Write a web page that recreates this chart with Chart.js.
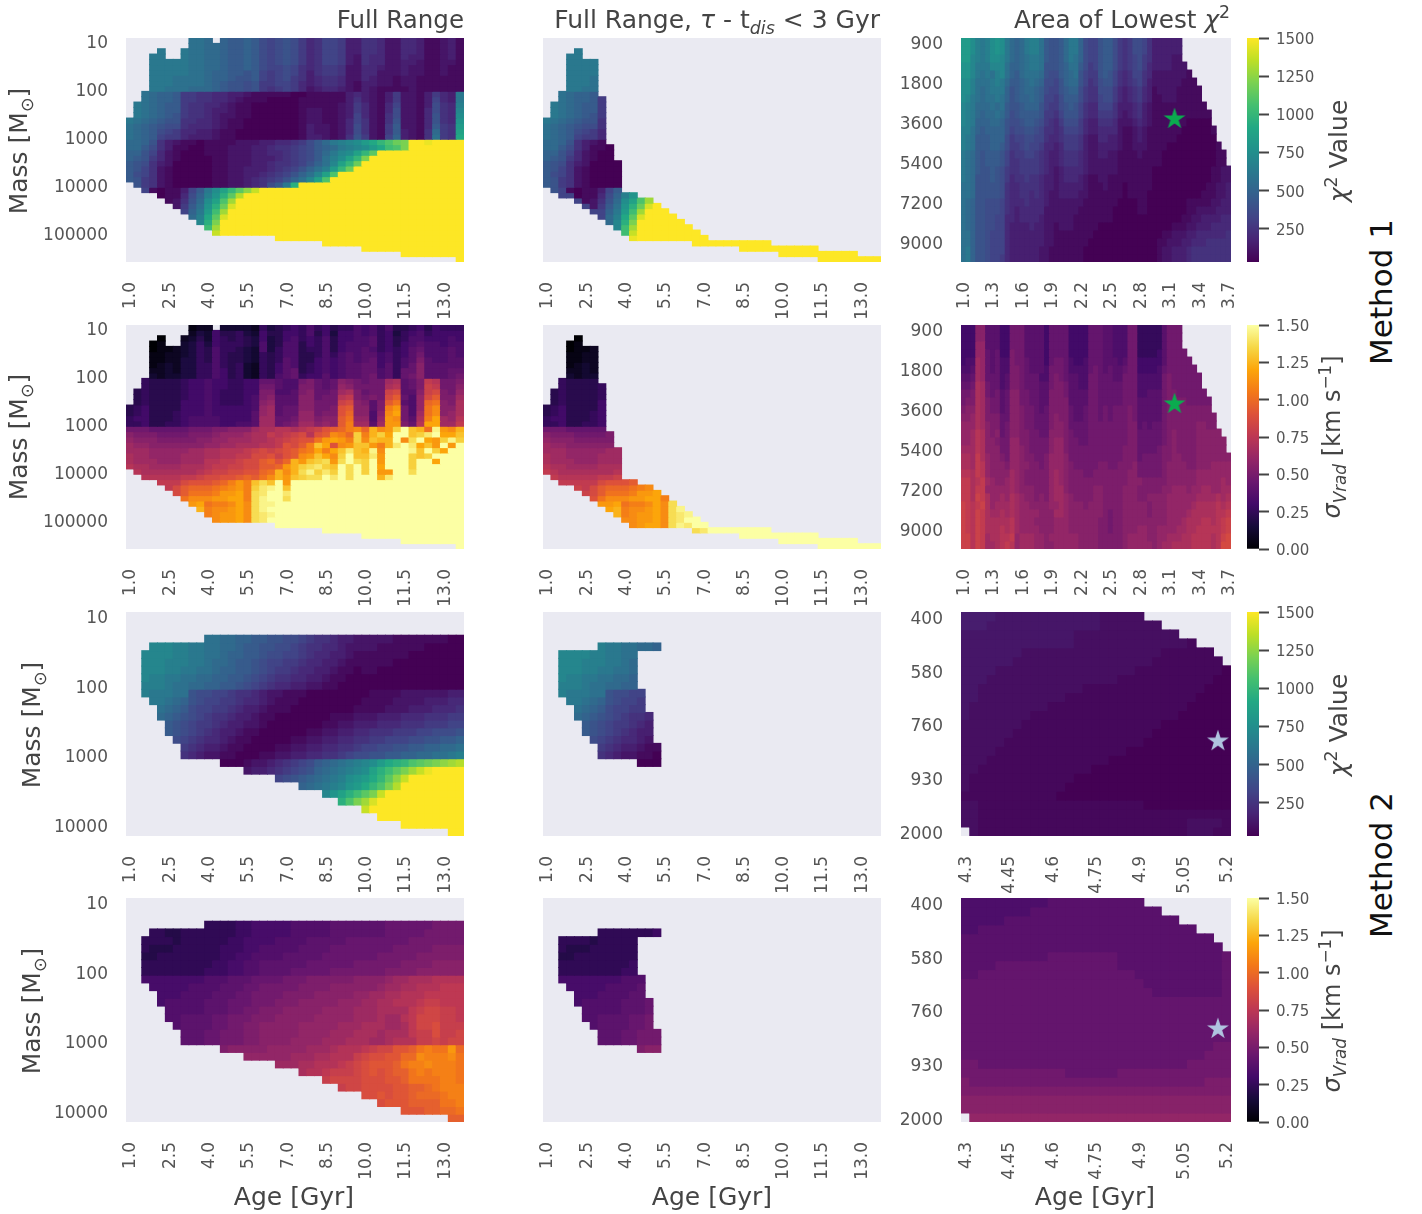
<!DOCTYPE html>
<html>
<head>
<meta charset="utf-8">
<script src="https://cdn.jsdelivr.net/npm/chart.js@4/dist/chart.umd.min.js"></script>
<style>
  body { margin: 0; background: #fff; width: 1422px; height: 1214px; overflow: hidden; position: relative; font-family: "DejaVu Sans", sans-serif; }
  canvas { position: absolute; }
  .t { position: absolute; white-space: nowrap; color: #444; font-size: 24px; }
  .v { transform: translate(-50%, -50%) rotate(-90deg); }
  .h { transform: translate(-50%, -50%); }
  .t sub, .t sup { font-size: 70%; line-height: 0; }
</style>
</head>
<body>
<script>
// cell values are one base-36 level per cell (0 = bottom of the colour scale, z = top)
// short rows carry on with their last level, spaces are only there for counting

const ageTicksFull = ["1.0", "2.5", "4.0", "5.5", "7.0", "8.5", "10.0", "11.5", "13.0"];
const ageTicksLow1 = ["1.0", "1.3", "1.6", "1.9", "2.2", "2.5", "2.8", "3.1", "3.4", "3.7"];
const ageTicksLow2 = ["4.3", "4.45", "4.6", "4.75", "4.9", "5.05", "5.2"];
const massTicks1 = ["10", "100", "1000", "10000", "100000"];
const massTicks2 = ["10", "100", "1000", "10000"];
const massTicksLow1 = ["900", "1800", "3600", "5400", "7200", "9000"];
const massTicksLow2 = ["400", "580", "760", "930", "2000"];
const chiBarTicks = [250, 500, 750, 1000, 1250, 1500];
const sigmaBarTicks = [0, 0.25, 0.5, 0.75, 1, 1.25, 1.5];

// best-fit stars: [age column, mass row]
const starChiLow1 = ["43", 10.0];
const starSigmaLow1 = ["43", 9.75];
const starChiLow2 = ["29", 14.3];
const starSigmaLow2 = ["29", 14.5];

// filled part of each column: first row, row after the last
const fullTop1 = [15,12,10,3,2,4,4,2,0,0,0,1,0,0,0,0,0,0,0,0,0,0,0,0,0,0,0,0,0,0,0,0,0,0,0,0,0,0,0,0,0,0,0];
const fullBottom1 = [27,28,29,29,30,31,32,33,34,35,36,37,37,37,37,37,37,37,37,38,38,38,38,38,38,39,39,39,39,39,40,40,40,40,40,41,41,41,41,41,41,41,42];
const midTop1 = [15,12,10,3,2,4,4,11,20,23,29,29,30,30,31,32,33,34,35,36,37,38,38,38,38,38,38,38,38,39,39,39,39,39,39,40,40,40,40,40,41,41,41];
const midBottom1 = [28,29,30,30,31,32,33,34,35,36,37,38,38,38,38,38,38,38,38,39,39,39,39,39,39,40,40,40,40,40,41,41,41,41,41,42,42,42,42,42,42,42,42];
const lowTop1 = [0,0,0,0,0,0,0,0,0,0,0,0,0,0,0,0,0,0,0,0,0,0,0,0,0,0,0,0,0,0,0,0,0,0,0,0,0,0,0,0,0,0,0,0,0,3,4,5,6,8,9,11,13,14,16];
const fullTop2 = [29,29,5,4,4,4,4,4,4,4,3,3,3,3,3,3,3,3,3,3,3,3,3,3,3,3,3,3,3,3,3,3,3,3,3,3,3,3,3,3,3,3,3];
const fullBottom2 = [0,0,11,12,14,16,17,19,19,19,19,19,20,20,20,21,21,21,21,22,22,22,23,23,23,24,24,25,25,25,26,26,27,27,27,28,28,28,28,28,28,29,29];
const midTop2 = [29,29,5,5,5,5,5,4,4,4,4,4,4,4,4,29,29,29,29,29,29,29,29,29,29,29,29,29,29,29,29,29,29,29,29,29,29,29,29,29,29,29,29];
const midBottom2 = [0,0,11,12,14,16,17,19,19,19,19,19,20,20,20,0,0,0,0,0,0,0,0,0,0,0,0,0,0,0,0,0,0,0,0,0,0,0,0,0,0,0,0];
const midGapCols2 = [12, 13, 14];
const midGapEnds2 = [10, 13, 17];
const lowTop2 = [0,0,0,0,0,0,0,0,0,0,0,0,0,0,0,0,0,0,0,0,0,1,1,2,2,3,3,4,4,5,6];
const lowBottom2 = [24,25,25,25,25,25,25,25,25,25,25,25,25,25,25,25,25,25,25,25,25,25,25,25,25,25,25,25,25,25,25];

const chiFull1 = [
  "eeeeeeeedd ccbaaba878 9864577633 5542244311 231",
  "eeeeeeeedd ccbaaba878 9864577633 5542244311 231",
  "eeeeeeeedd ccbaaba878 9864577633 5542244311 231",
  "eeeeeeeedd ccbaaba878 9864577632 5442243311 231",
  "eeeeeeeedd ccbaaba878 9864577632 5442233211 221",
  "eeeeeeeedd ccbaaba877 8754566522 4432232211 211",
  "eeeeeeeedd cbbaa9a767 8753566522 4422232211 211",
  "eeeeeedddd cbba99a767 8653455422 4322122111 111",
  "eeeeeedddd cba9989667 7643455421 3322122111 111",
  "eeeeedddcc cba9989656 7642344321 3211112111 111",
  "eedcbba665 5443321111 1001111134 3213622136 43e",
  "eedcbba665 5443211100 0011111135 3213622137 43e",
  "eedcbaa655 4432110000 0011111236 4214722138 54f",
  "eedcbaa655 4332110000 0012211236 4214822148 54g",
  "eedcba9655 4322110000 0012211237 4215822149 54h",
  "edcba99554 4321100000 0012211247 5215922149 54i",
  "dcba988544 4321100000 0013221248 5216a2214a 65j",
  "dcba876443 3211000000 0013221248 5216a3215c 65k",
  "dcba766433 3211000000 0013321259 6217b3215d 65l",
  "ccb9532110 1111222334 4568acefgh jlnprszzyz zzz",
  "cca8531100 1112223345 5678abcefg hjlopszzzz zzz",
  "bb97421000 1112223344 5678aceghk nqzzzzzzzz zzz",
  "ba96421000 0112223334 5678adfhkn szzzzzzzzz zzz",
  "a985320000 0112223345 5679bdgknr zzzzzzzzzz zzz",
  "a975210000 0112233345 679bdfjnrz zzzzzzzzzz zzz",
  "a875210000 0112233456 79bdgkpzzz zzzzzzzzzz zzz",
  "a965210000 0112234567 9bdgkpzzzz zzzzzzzzzz zzz",
  "a965210000 011223458a emzzzzzzzz zzzzzzzzzz zzz",
  "997101137a ehknqtwz",
  "997701148b fimqvz",
  "997771259c hkpuz",
  "99777726ad imrxz",
  "99777777be jouz",
  "99777777cf lqxz",
  "99777777cg msz",
  "99777777cg ouz",
  "99777777cg owz",
  "99777777cg pyz",
  "z"
];

const sigmaFull1 = [
  "1111111112 2733332645 6768675668 7868556757 666",
  "1111111124 3755643755 7768574778 7867467867 777",
  "1111022235 3765654745 7867685778 8967568877 787",
  "1110122346 4766654845 8857685788 8967578988 788",
  "1110112346 5866543846 8856685788 9867679a88 898",
  "1111122346 5865543656 8855686898 9978679b88 898",
  "1111122446 5865543656 9855787898 9a78689c98 899",
  "1111232446 6865632657 9856787899 aa7968ad99 999",
  "2212232446 6875632657 9a56787899 aa896aad99 9aa",
  "2213233446 6875632658 9a67797899 ab896abd99 9ab",
  "6665555677 8776677aa9 88bca9adcb abbfg9acih bbc",
  "6665555677 8776677bb9 88cca9aedb bbbgh9acji bbd",
  "5565555677 8766677cc8 89cdaabfgc abbjk99djk cbe",
  "5565555677 8766678cd9 99ddabbhic bcbkma8ekm ccf",
  "6565555777 8766678de9 99ddbbbjkd c9cmo98eno dcg",
  "5675555777 8777778ef9 aaddbbclmd d9cprb8eoq ddg",
  "5675556777 8777779ef9 aaeebcclnd d8dqsb8foq deg",
  "6775556788 8877779ffa abeecddmoe e8erqb9gps feh",
  "6675566788 8877889ffa bcffdedmpf f9frrcahss ffi",
  "bbbaaaaabb bccdddfggh hghijlmnpq ntqrvzutoy rqt",
  "dcccbbbbcc cdeeefggih ijkhlmqpnv ptvszzuvxz ssu",
  "edddcccccd deefffgghi jkllorsrpv quttzqwzsr vyv",
  "feeddddddd eeffggghhi lkmpuslqru urptxzxsur zrz",
  "fffeeeeeff gghhhijkjk lmopspsuxu tyqzzzyuzv szz",
  "gffeeeefff gghhiikklj lmqrusqvzu uxrzzzvuvz zzz",
  "gfffeeefff hhiijkkmnl ntruvwrwzw vzrzzzvzzs zzz",
  "hggffffggg hiijjkkmmn rtvwxvuzwz vzszzzvzzz zzz",
  "ihgggggggh ijjkkllnot qtwyvxvzwz vzrrzzwzzz zzz",
  "jihhhhhiij kkllmnmoqt ruvwwzxzwz zztxzzzzzz zzz",
  "jjiiiiikll lmnprpuwuz rz",
  "jjjjjikmnn nopqrpvxyz uz",
  "jjjjjjkmoo oprrspwxzz xz",
  "jjjjjjloqq qrrsspwyzz wz",
  "jjjjjjlrrs oppqsqwyyz z",
  "jjjjjjjsst pqqrsqwyzz z",
  "jjjjjjjjst pqrrsqwxyz z",
  "jjjjjjjjjt qqrrsqwxzz z",
  "jjjjjjjjjj qqrssqwyxz z",
  "jjjjjjjjjj zzzzzzzzzw xz",
  "z"
];

const chiLow1 = [
  "jjhfefhihe cbceffda99 aceeb8779a a865688753 3333333222 22222",
  "jjhfefhihe cbceffda99 aceeb8779a a865688753 3333333222 22222",
  "jjgfefhhge cbcdeeda99 acedb8779a a865678653 3332222222 22222",
  "iigeeegggd bbcdeed999 abdda8679a a865678643 3332222222 22222",
  "iigededfgd bacdddc988 abcd97669a 9754577542 2222221111 11111",
  "hhfdddefec aabcdcb887 9bcc975689 9754567532 2222211111 11111",
  "hhfdcdeeeb 9abccba877 9abb865588 8643456431 2222111111 11111",
  "hgedcddedb 9abbcba776 8aaa865578 8643456431 1222111111 11111",
  "gfecccdcda 99abbb9766 89a9754477 7533345321 1111111111 11111",
  "gfecbccdca 89aaaa9665 7999754466 6532345321 1111111111 11111",
  "gfebbbccb9 889aa98654 6888643355 5422234321 1111110000 01111",
  "ffdbabbbb9 7889987554 5777643344 4421123211 1111100000 01111",
  "fedaaabbb8 6778877544 5666532244 3321123211 1111000000 00111",
  "fedaaabba8 6678776443 4666532233 3321122211 1100000000 00111",
  "edca9aaa97 5667765433 4555432233 2211112111 1000000000 00112",
  "edca9aaa97 5566665433 4555432222 2211111111 1000000000 00112",
  "edca99a986 5566665432 3444432222 2211111110 0000000000 01122",
  "edc999a986 4556554332 3444321122 1111111110 0000000000 01122",
  "ddc9999985 4455554332 3333321112 1110111110 0000000000 11223",
  "ddc9999985 4455454322 3333221111 1110111100 0000000001 11223",
  "dcb9988875 4445444322 2222211111 1100001100 0000001111 12233",
  "dcb9988875 4344444222 2222111111 1000001100 0000001122 22333",
  "dcb9988774 4344443222 2221111111 1000000000 0000011223 33344",
  "dcb9988774 3333433221 2221111100 0000000000 0001112233 34444",
  "ddb9987774 3333333221 1111111000 0000000000 0112223344 44445",
  "ddb9987774 3333333221 1111110000 0000000000 1122233444 55555",
  "deb9987774 3333332211 1111100000 0000000000 1223334555 55555",
  "deb9987764 3333332211 1111100000 0000000000 1223334555 55555"
];

const sigmaLow1 = [
  "777dd99977 bbb99997aa aa7777aaa9 9888bb6666 69bbbbbbbb bbbbb",
  "777dd99977 bbb99997aa aa7777aaa9 9888bb6666 69bbbbbbbb bbbbb",
  "777ee99977 bbb99997aa aa7777aaa9 9888bb6666 69bbbbbbbb bbbbb",
  "777eea9a77 cbb99997aa aa7777aaa9 9888bb6666 79bbbbbbbb bbbbb",
  "788fea9a88 cbba9997ab ba8778aaa9 9989bb7777 79bbbbbbbb bbbbb",
  "889fea9a88 ccba9998bb ba8888aba9 a99abb7777 8abbbbbbbb bbbbb",
  "99afeaaa89 ccbaaa88bc ba9988bbaa a99bbb8888 8bcbbbbbbb bbbbb",
  "aabgfbaa89 ccbaaa99bc cb9988bbaa aaabbb8888 8bcbbbbbbb bbbbb",
  "bbcgfbab9a ddbbaa99cc cb9999bbaa aaabbb8899 9bccbbbbbb bbbbb",
  "bccgfcbb9a ddbbaa99cc cc9999bbaa aaabbb9999 9bccccbbbb bbbbb",
  "cddgfcbb9a ddcbba9acc cca99abbab abbbcb9999 9bcccccccc ccccc",
  "ddegfcccaa ddcbbaaacd cca99abbab abbbcb9999 9bcccccccc ccccc",
  "eeegfdccab ddcbbaaacd dcaaaabbbb bbbbcc9a9a abccccccdd ccccc",
  "eefhgdcdab ddccbbaadd dcbaaabbbb bbbbccaaaa abcdccccdd ddddd",
  "eefhgddcbb eeccbbbbde ecbbaabbbb bbbbccaaaa abcdccccdd ddddd",
  "fffhgdddbb eedcbbbbde ecbbbbbbbb bbbcccaaaa bccdccccdd ddddd",
  "ggfigeddcb eedccbbcee edbbbbbbbb bbbcccabbb bccddcccdd ddddd",
  "ggfihedddc eeddccbcee edcbbbbbcc bbcccdbbbb bcddddccdd deeee",
  "hhgihedddd fedcccccef edcccbbccc ccccddbbbb bcddddddee eeeee",
  "iighifedde fedcccccef edcccccccc ccccdddccc ccddddddee eeefe",
  "iigiieeeee fedddcccef fdcccccddc cccdddcccc cddeeedeef feeff",
  "iigjigeefe gfeddcdcef fedccccddc cccdddccdd ddeeeeeeff ffgfg",
  "jihijgefff gfeeddddee fedddcdddc cccdddddcd ddeeeeefgg gghgh",
  "jihjigffgf gfeeeedddf fedddddddc bccdddddcd ddeeeefggg gghhi",
  "jihjiggggg hfeeedddde eeddddddcc bccddddddd ddeeefgggh hghij",
  "jihjiggghg hfeeeeddde eeddddddcc bccdddeedd eeeeffgghh hhhij",
  "jjhjifgghh iefffeedee eeeeddddcc cccdeeeedd eefffgghhh hghjk",
  "jjhjiffghi hefffeedde eeeeddddcc cccdeeeeed effgggghhh hghkk"
];

const chiFull2 = [
  "g", "g", "g",
  "ggggggffee ddccbbaa99 8876554332 2222111111 100",
  "ggggggffee ddccbaa998 8765544322 2211111100 000",
  "ggggggffee ddcbbaa988 7765443321 1111110000 000",
  "gggggfffee dccbaa9877 6654433211 1111000000 000",
  "gggggffeed dcbbaa9876 6544332110 1100000000 000",
  "gggffeeddc cbbaa98765 5443321100 0000000000 000",
  "ggfffeddcc bbaa987654 4332211000 0000000000 000",
  "fffeeedd98 8776554322 1110000000 0111122222 233",
  "fffeedcb98 7766544321 1100000000 1111222233 344",
  "fffedcba87 7665433211 1000000001 1112223334 445",
  "eeedcba987 6554332110 0000001112 2233344455 566",
  "eeecba9876 6543322100 0000011223 3344455566 677",
  "eedcba9876 5433211000 0001122334 4555666778 889",
  "eedca98765 4432110000 0112233445 5667778899 aab",
  "edcb987654 3321100001 1223344556 778899aabb ccd",
  "edca876543 2211000112 2334455678 899aabbccd def",
  "edca876433 1100012234 5678abcdef ghjlmnpqrs tuv",
  "edca876433 1100123345 6789bcdefg hkmoqsuwyz zzz",
  "eeeeeeeeee 1111234567 89abcdefhi jlnqtwzzzz zzz",
  "eeeeeeeeee 1111111678 9abcdefgij lnpsvzzzzz zzz",
  "eeeeeeeeee 1111111111 11bcegikmo qswz",
  "eeeeeeeeee 1111111111 11111ikmps uxz",
  "eeeeeeeeee 1111111111 1111111oqt wz",
  "eeeeeeeeee 1111111111 1111111111 yz",
  "z", "z"
];

const sigmaFull2 = [
  "6", "6", "6",
  "6666666666 6666778888 899999aaaa aaabbbbbbc ccc",
  "6666655666 6666778888 899999aaaa aaabbbbbcc ccc",
  "6666665666 6667788889 999aaaaabb bbbbbbcccc ccc",
  "6665556666 6677788999 99aaaabbbb bbbbcccccd ddd",
  "6655666666 6677889999 aaaaabbbbb bbcccccddd ddd",
  "6666666666 6778899aaa aaabbbbbbc cccccdddde eee",
  "6666666666 7778899aaa abbbbbcccc cccddddeee eee",
  "8888888888 999aaabbbb cccdddddde eeefgghhhi iii",
  "8888888899 99aaabbccc ccddddeeee eefgghhiii jjj",
  "8888888999 9aaabbcccc ddddeeeeef fgghhiiijj jjj",
  "8888899999 aaabbbcccd ddeeeeefff gghhiiijkk jjj",
  "8889999999 aaabbccddd eeeeeffffg gghhhhjkll kkj",
  "8889999aaa abbcccddde eeeefffffg gghggijlll kkj",
  "8999999aaa abbccddeee eefffffggg hhhgghjllm kkk",
  "899999aaaa bbcccddeee eeffffgggh hhghhhjkkm kkl",
  "999999aaaa bbcccddeee effffggghh hgghiiikkl kll",
  "9999999aaa bbdeeeeeff fffggghiii jkllnnoqrq qtp",
  "9999999aaa bbeeefffff fggghhiiik lmmnnppsrr rsq",
  "9999999aaa bbeeefffgg gghhiiijkl mnnnoqrrsr rrq",
  "9999999aaa bbeeefffgg hhhiijkkkl mnmnooqrqr rrq",
  "9999999aaa bbeeefffgg ggiijkllll mmmnnoqqqq rrq",
  "9999999aaa bbeeefffgg ggiijkkkll mmmmnnoopq rrr",
  "9999999aaa bbeeefffgg ggiijjkmml mmnmnnoppp qrr",
  "9999999999 9999999999 9999999999 mmmnnnoooo qqr",
  "9999999999 9999999999 9999999999 mmmmmnnnoo ppq",
  "9999999999 9999999999 9999999999 mmmmmmnooo ooo"
];

const chiLow2 = [
  "4444333333 3333332222 2222222222 2",
  "4443333333 3333332222 2222222222 2",
  "3333333333 3332222222 2222222222 1",
  "3333333333 3332222222 2222221111 1",
  "3333333222 2222222222 2221111111 1",
  "3333332222 2222222222 2211111111 1",
  "3333222222 2222222222 1111111111 0",
  "3332222222 2222222211 1111111110 0",
  "3322222222 2222111111 1111111100 0",
  "3322222222 2211111111 1111111000 0",
  "3222222222 1111111111 1111110000 0",
  "3222222211 1111111111 1111100000 0",
  "2222222111 1111111111 1110000000 0",
  "2222221111 1111111111 1100000000 0",
  "2222211111 1111111111 1000000000 0",
  "2222111111 1111111110 0000000000 0",
  "2221111111 1111111000 0000000000 0",
  "2211111111 1111100000 0000000000 0",
  "2111111111 1110000000 0000000000 0",
  "2111111111 1100000000 0000000000 0",
  "1111111111 1000000000 0000000000 0",
  "2211111111 1111111111 1000000000 0",
  "2211111111 1111111111 1111111111 1",
  "2211111111 1111111111 1111112222 1",
  "2211111111 1111111111 1111112221 1"
];

const sigmaLow2 = [
  "8888888888 9999999999 9999999999 9",
  "8888888899 9999999999 9999999999 9",
  "8888899999 9999999999 9999999999 9",
  "8899999999 9999999999 9999999999 9",
  "9",
  "9999999999 9999999999 9999999999 a",
  "9999999999 aaaaaaaa99 9999999999 a",
  "9999aaaaaa aaaaaaaa99 9999999999 a",
  "99aaaaaaaa aaaaaaaaaa 9999999999 a",
  "aaaaaaaaaa aaaaaaaaaa a999999999 a",
  "aaaaaaaaaa aaaaaaaaaa aa99999999 a",
  "a", "a", "a", "a", "a",
  "aaaaaaaaaa aaaaaaaaaa aaaaaaaaab b",
  "aaaaaaaaaa aaaaaaaaaa aaaaaaaabb b",
  "bbaaaaaaaa aaaaaaaaaa aaaaaabbbb b",
  "bbbbbbbbbb bbaaaaaabb bbbbbbbbbb b",
  "cbbbbbbbbb bbbbbbbbbb bbbbbbbbcc c",
  "c", "d", "d", "e"
];

const viridis = ["#440154", "#482475", "#414487", "#355f8d", "#2a788e", "#21918c", "#22a884", "#44bf70", "#7ad151", "#bddf26", "#fde725"];
const inferno = ["#000004", "#160b39", "#420a68", "#6a176e", "#932667", "#bc3754", "#dd513a", "#f37819", "#fca50a", "#f6d746", "#fcffa4"];

function hexRgb(h) {
  return [1, 3, 5].map((i) => parseInt(h.slice(i, i + 2), 16));
}

function levelColor(stops, f) {
  const p = Math.min(f, 0.9999) * (stops.length - 1);
  const i = Math.floor(p);
  const a = hexRgb(stops[i]), b = hexRgb(stops[i + 1]);
  const c = a.map((v, k) => Math.round(v + (b[k] - v) * (p - i)));
  return `rgb(${c[0]},${c[1]},${c[2]})`;
}

function starImage(color) {
  const c = document.createElement("canvas");
  c.width = 24; c.height = 24;
  const g = c.getContext("2d");
  g.fillStyle = color;
  g.beginPath();
  for (let i = 0; i < 10; i++) {
    const r = i % 2 ? 4.4 : 11.5;
    const a = -Math.PI / 2 + i * Math.PI / 5;
    g.lineTo(12 + r * Math.cos(a), 13 + r * Math.sin(a));
  }
  g.closePath();
  g.fill();
  return c;
}

const panelBg = {
  id: "panelBg",
  beforeDatasetsDraw(chart) {
    const a = chart.chartArea;
    chart.ctx.fillStyle = "#eaeaf2";
    chart.ctx.fillRect(a.left, a.top, a.right - a.left, a.bottom - a.top);
  },
};

// axis sizes are fixed, so the tick labels must not push the plot area in
function fixAxis(s, size) {
  if (s.isHorizontal()) s.height = size; else s.width = size;
  s.paddingLeft = s.paddingRight = s.paddingTop = s.paddingBottom = 0;
}

function addCanvas(x, y, w, h) {
  const cv = document.createElement("canvas");
  cv.width = w; cv.height = h;
  cv.style.left = x + "px"; cv.style.top = y + "px";
  cv.style.width = w + "px"; cv.style.height = h + "px";
  document.body.appendChild(cv);
  return cv;
}

// one bar chart per panel, one floating-bar dataset per row
function heatmap(p) {
  const gutter = 125;
  const cv = addCanvas(p.x - gutter, p.y - 10, p.w + gutter + 5, p.h + 10 + 70);
  const labels = Array.from({ length: p.cols }, (_, i) => String(i));
  const scale = p.levelScale || 1;
  const datasets = [];
  for (let r = 0; r < p.rows; r++) {
    const raw = (p.values[Math.min(r, p.values.length - 1)]).replace(/ /g, "");
    const row = raw.padEnd(p.cols, raw[raw.length - 1]);
    const inMask = (c) => {
      if (r < p.top[c] || r >= (p.bottom ? p.bottom[c] : p.rows)) return false;
      const g = p.gapCols ? p.gapCols.indexOf(c) : -1;
      return !(g >= 0 && r >= 5 && r < p.gapEnds[g]);
    };
    datasets.push({
      data: labels.map((_, c) => (inMask(c) ? [r, r + 1] : null)),
      backgroundColor: labels.map((_, c) => levelColor(p.cmap, scale * parseInt(row[c], 36) / 35)),
      grouped: false,
      barPercentage: 1,
      categoryPercentage: 1,
      borderWidth: 0,
      inflateAmount: 0.45,
    });
  }
  if (p.star) {
    // the image sets the star size; a bigger radius would add chart padding
    datasets.unshift({
      type: "scatter",
      order: -1,
      data: [{ x: p.star[0], y: p.star[1] }],
      pointStyle: starImage(p.starColor),
      pointRadius: 1,
    });
  }
  new Chart(cv, {
    type: "bar",
    data: { labels, datasets },
    plugins: [panelBg],
    options: {
      responsive: false,
      animation: false,
      events: [],
      layout: { padding: { left: 0, top: 10, right: 5, bottom: 0 } },
      plugins: { legend: { display: false }, tooltip: { enabled: false }, title: { display: false } },
      scales: {
        x: {
          type: "category",
          offset: true,
          grid: { display: false, drawTicks: false },
          border: { display: false },
          ticks: {
            autoSkip: false, minRotation: 90, maxRotation: 90, padding: 20, labelOffset: 1,
            color: "#555", font: { size: 17, family: "DejaVu Sans" },
            callback: (v, i) => (i % p.xStep === 0 ? p.xTicks[i / p.xStep] : ""),
          },
          afterFit(s) { fixAxis(s, 70); },
        },
        y: {
          type: "linear",
          reverse: true,
          min: 0,
          max: p.rows,
          grid: { display: false, drawTicks: false },
          border: { display: false },
          afterBuildTicks(s) { s.ticks = p.yTicks.map((_, i) => ({ value: i * p.yStep + 0.5 })); },
          ticks: { autoSkip: false, padding: 18, labelOffset: 3, color: "#555", font: { size: 17, family: "DejaVu Sans" }, callback: (v, i) => p.yTicks[i] },
          afterFit(s) { fixAxis(s, gutter); },
        },
      },
    },
  });
}

function colorBar(y, h, stops, min, max, ticks, fmt) {
  const cv = addCanvas(1247, y - 10, 95, h + 20);
  new Chart(cv, {
    type: "bar",
    data: {
      labels: [""],
      datasets: [{
        data: [[min, max]],
        barPercentage: 1,
        categoryPercentage: 1,
        borderWidth: 0,
        backgroundColor(ctx) {
          const a = ctx.chart.chartArea;
          if (!a) return stops[0];
          const g = ctx.chart.ctx.createLinearGradient(0, a.bottom, 0, a.top);
          stops.forEach((s, i) => g.addColorStop(i / (stops.length - 1), s));
          return g;
        },
      }],
    },
    options: {
      responsive: false,
      animation: false,
      events: [],
      layout: { padding: { top: 10, bottom: 10 } },
      plugins: { legend: { display: false }, tooltip: { enabled: false } },
      scales: {
        x: { display: false },
        y: {
          position: "right",
          min,
          max,
          grid: { drawOnChartArea: false, tickLength: 10, tickWidth: 2, tickColor: "#444" },
          border: { display: false },
          afterBuildTicks(s) { s.ticks = ticks.map((v) => ({ value: v })); },
          ticks: { autoSkip: false, padding: 7, labelOffset: 2, color: "#555", font: { size: 15, family: "DejaVu Sans" }, callback: fmt },
          afterFit(s) { fixAxis(s, 83); },
        },
      },
    },
  });
}

const rowY = [38, 325, 612, 898];
const colX = { full: 126, mid: 543, low: 961 };
const green = "#0bab4f", steel = "#b0c4e0";

const full = { xTicks: ageTicksFull, xStep: 5, cols: 43, w: 338, h: 224 };
const low1 = { xTicks: ageTicksLow1, xStep: 6, cols: 55, rows: 28, w: 270, h: 224, yTicks: massTicksLow1, yStep: 5, top: lowTop1, starColor: green };
const low2 = { xTicks: ageTicksLow2, xStep: 5, cols: 31, rows: 25, w: 270, h: 224, yTicks: massTicksLow2, yStep: 6, top: lowTop2, bottom: lowBottom2, starColor: steel };
const m1 = { rows: 42, yTicks: massTicks1, yStep: 9 };
const m2 = { rows: 29, yTicks: massTicks2, yStep: 9 };

[
  { ...full, ...m1, x: colX.full, y: rowY[0], values: chiFull1, cmap: viridis, top: fullTop1, bottom: fullBottom1 },
  { ...full, ...m1, x: colX.mid, y: rowY[0], values: chiFull1, cmap: viridis, top: midTop1, bottom: midBottom1, yTicks: [] },
  { ...low1, x: colX.low, y: rowY[0], values: chiLow1, cmap: viridis, star: starChiLow1 },
  { ...full, ...m1, x: colX.full, y: rowY[1], values: sigmaFull1, cmap: inferno, top: fullTop1, bottom: fullBottom1 },
  { ...full, ...m1, x: colX.mid, y: rowY[1], values: sigmaFull1, cmap: inferno, top: midTop1, bottom: midBottom1, yTicks: [] },
  { ...low1, x: colX.low, y: rowY[1], values: sigmaLow1, cmap: inferno, star: starSigmaLow1 },
  { ...full, ...m2, x: colX.full, y: rowY[2], values: chiFull2, cmap: viridis, top: fullTop2, bottom: fullBottom2 },
  { ...full, ...m2, x: colX.mid, y: rowY[2], values: chiFull2, cmap: viridis, top: midTop2, bottom: midBottom2, gapCols: midGapCols2, gapEnds: midGapEnds2, yTicks: [] },
  { ...low2, x: colX.low, y: rowY[2], values: chiLow2, cmap: viridis, star: starChiLow2, levelScale: 0.7 },
  { ...full, ...m2, x: colX.full, y: rowY[3], values: sigmaFull2, cmap: inferno, top: fullTop2, bottom: fullBottom2, levelScale: 0.93 },
  { ...full, ...m2, x: colX.mid, y: rowY[3], values: sigmaFull2, cmap: inferno, top: midTop2, bottom: midBottom2, gapCols: midGapCols2, gapEnds: midGapEnds2, yTicks: [], levelScale: 0.93 },
  { ...low2, x: colX.low, y: rowY[3], values: sigmaLow2, cmap: inferno, star: starSigmaLow2 },
].forEach(heatmap);

colorBar(rowY[0], 224, viridis, 33, 1500, chiBarTicks, (v) => String(v));
colorBar(rowY[1], 224, inferno, 0, 1.5, sigmaBarTicks, (v) => v.toFixed(2));
colorBar(rowY[2], 224, viridis, 33, 1500, chiBarTicks, (v) => String(v));
colorBar(rowY[3], 224, inferno, 0, 1.5, sigmaBarTicks, (v) => v.toFixed(2));

function text(html, x, y, cls, size, color) {
  const d = document.createElement("div");
  d.className = "t " + cls;
  d.innerHTML = html;
  d.style.left = x + "px";
  d.style.top = y + "px";
  if (size) d.style.fontSize = size + "px";
  if (color) d.style.color = color;
  document.body.appendChild(d);
}

function titleRight(html, right, size) {
  const d = document.createElement("div");
  d.className = "t";
  d.innerHTML = html;
  d.style.right = 1422 - right + "px";
  d.style.top = "19px";
  d.style.fontSize = size + "px";
  d.style.transform = "translateY(-50%)";
  document.body.appendChild(d);
}

titleRight("Full Range", 464, 24.5);
titleRight("Full Range, <i>τ</i> - t<sub><i>dis</i></sub> &lt; 3 Gyr", 880, 25);
titleRight("Area of Lowest <i>χ</i><sup>2</sup>", 1230, 24.7);

const massLabel = "Mass [M<sub>⊙</sub>]";
text(massLabel, 18, 151, "v", 25);
text(massLabel, 18, 437, "v", 25);
text(massLabel, 31, 725, "v", 25);
text(massLabel, 31, 1011, "v", 25);

text("Age [Gyr]", 294, 1196, "h", 25);
text("Age [Gyr]", 712, 1196, "h", 25);
text("Age [Gyr]", 1095, 1196, "h", 25);

const chiLabel = "<i>χ</i><sup>2</sup> Value";
const sigmaLabel = "<i>σ</i><sub><i>Vrad</i></sub> [km s<sup>−1</sup>]";
text(chiLabel, 1338, 151, "v", 25);
text(sigmaLabel, 1332, 437, "v", 24);
text(chiLabel, 1338, 725, "v", 25);
text(sigmaLabel, 1332, 1011, "v", 24);

text("Method 1", 1381, 292, "v", 31, "#111");
text("Method 2", 1381, 865, "v", 31, "#111");
</script>
</body>
</html>
